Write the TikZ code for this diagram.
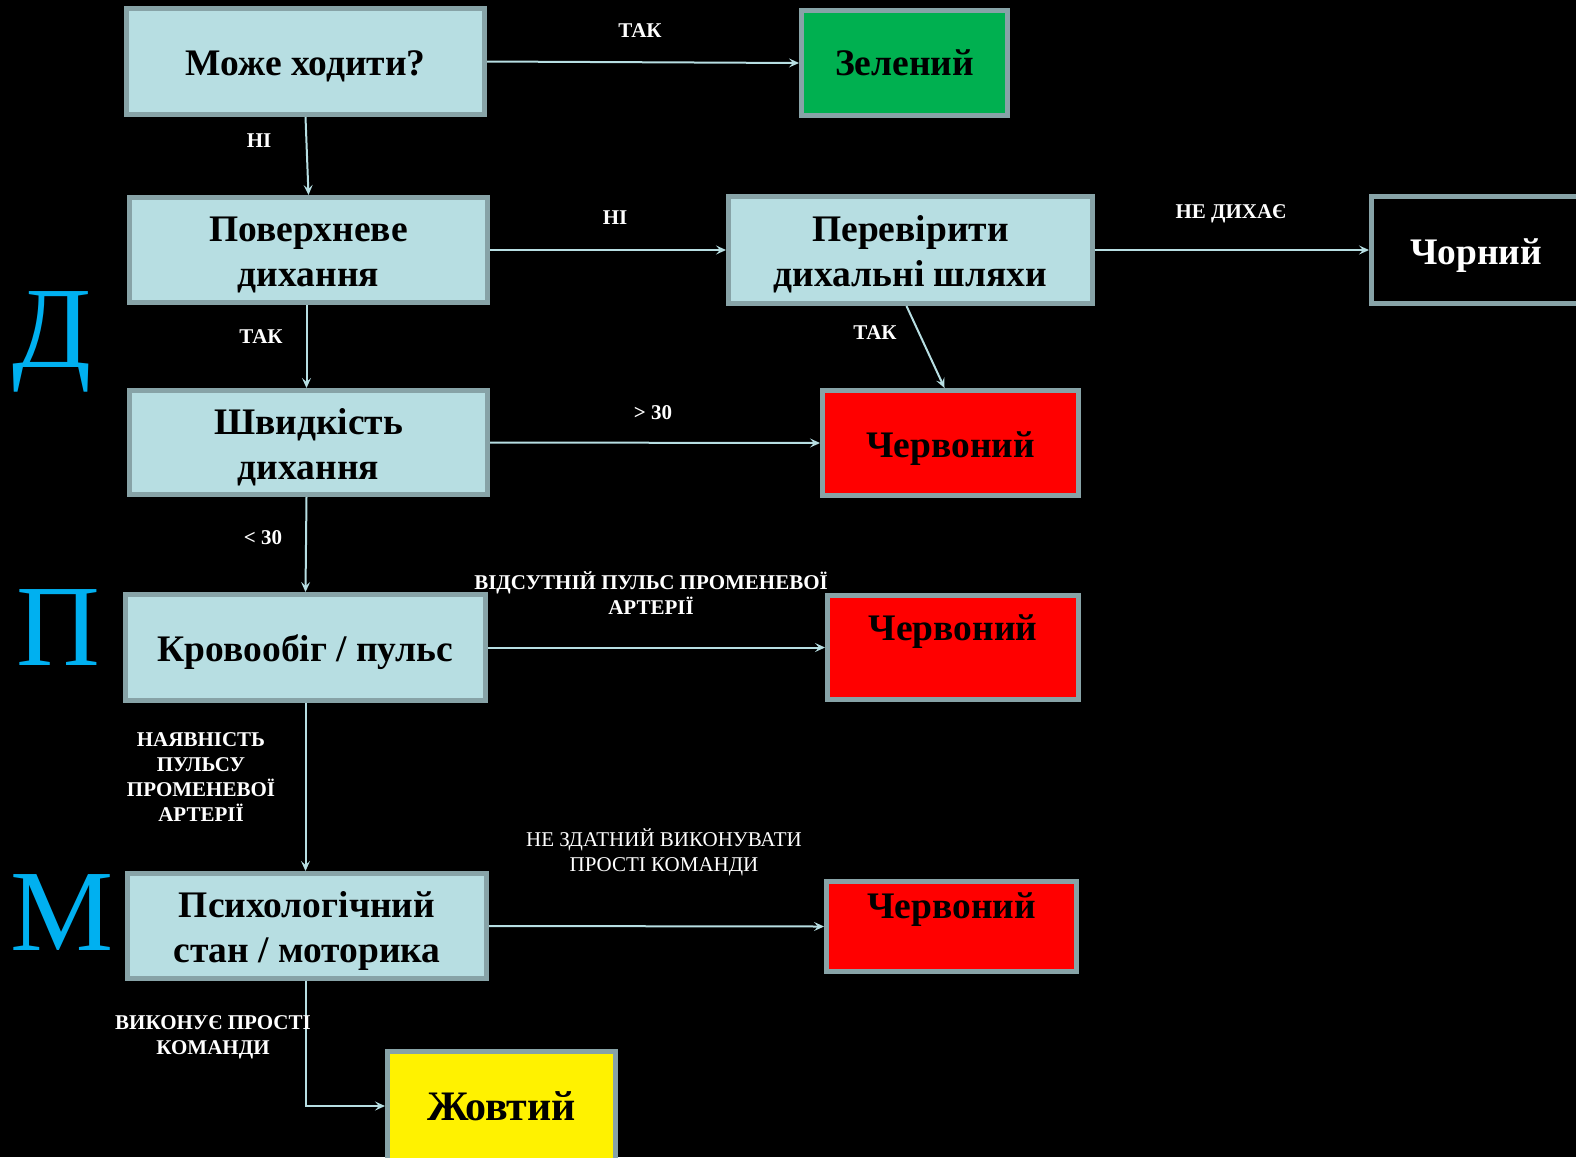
\documentclass[tikz,border=0pt]{standalone}
\usepackage{fontspec}
\setmainfont{Liberation Serif}
\usepackage{xcolor}
\usepackage{tikz}
\usetikzlibrary{arrows.meta}

\definecolor{boxfill}{HTML}{B7DEE2}
\definecolor{boxline}{HTML}{87A3A7}
\definecolor{arrowc}{HTML}{B7DEE2}
\definecolor{greenc}{HTML}{00B050}
\definecolor{sidec}{HTML}{00B0F0}

\newcommand{\boxfont}{\fontsize{37.5}{45}\selectfont\bfseries}
\newcommand{\lblfont}{\fontsize{21}{25}\selectfont\bfseries}
\newcommand{\sidefont}{\fontsize{116}{116}\selectfont}
% text set a little lower in its box
\newcommand{\dn}[1]{\raisebox{-5pt}[\height][\depth]{\begin{tabular}{@{}c@{}}#1\end{tabular}}}

\tikzset{
    base/.style={draw=boxline, line width=5pt, font=\boxfont, align=center, inner sep=0pt},
    qbox/.style={base, fill=boxfill},
    lbl/.style={text=white, font=\lblfont, align=center, inner sep=0pt},
    side/.style={text=sidec, font=\sidefont, anchor=base, inner sep=0pt},
    conn/.style={draw=arrowc, line width=2pt, -{Stealth[length=10pt,width=9pt,inset=4pt]}}
}

\begin{document}
\begin{tikzpicture}[x=1pt,y=-1pt]
        \useasboundingbox (0,0) rectangle (1576,1157);
        \fill[black] (0,0) rectangle (1576,1157);
        \clip (0,0) rectangle (1576,1157);

        % questions
        \node[qbox, minimum width=358, minimum height=106] (walk) at (305.5,61.5) {\dn{Може ходити?}};
        \node[qbox, minimum width=358, minimum height=105] (breath) at (308.5,250) {\dn{Поверхневе\\дихання}};
        \node[qbox, minimum width=364, minimum height=107] (airway) at (910.5,250) {\dn{Перевірити\\дихальні шляхи}};
        \node[qbox, minimum width=358, minimum height=104] (rate) at (308.5,442.5) {\dn{Швидкість\\дихання}};
        \node[qbox, minimum width=360, minimum height=106] (pulse) at (305.5,647.5) {\dn{Кровообіг / пульс}};
        \node[qbox, minimum width=359, minimum height=105] (mental) at (307,926) {\dn{Психологічний\\стан / моторика}};

        % results
        \node[base, fill=greenc, minimum width=206, minimum height=105] (green) at (904.5,63) {Зелений};
        \node[base, fill=black, text=white, minimum width=209, minimum height=107] (black) at (1476,250) {\dn{Чорний}};
        \node[base, fill=red, minimum width=256, minimum height=105] (red1) at (950.5,443) {\dn{Червоний}};
        \node[base, fill=red, minimum width=251, text height=44.5, text depth=59.5] (red2) at (953,647.5) {Червоний};
        \node[base, fill=red, minimum width=250, text height=37, text depth=53] (red3) at (951.5,926.5) {Червоний};
        \node[base, fill=yellow, minimum width=228, minimum height=109, font=\fontsize{42}{45}\selectfont\bfseries] (yellow) at (501.5,1106) {Жовтий};

        % letters
        \node[side] (d) at (52,367) {Д};
        \node[side] (p) at (58,665) {П};
        \node[side] (m) at (62,950) {М};

        % connectors
        \draw[conn] (walk.east) -- (green.west);
        \draw[conn] (walk.south) -- (breath.north);
        \draw[conn] (breath.east) -- (airway.west);
        \draw[conn] (airway.east) -- (black.west);
        \draw[conn] ([xshift=-4pt]airway.south) -- ([xshift=-6pt]red1.north);
        \draw[conn] ([xshift=-2pt]breath.south) -- ([xshift=-2pt]rate.north);
        \draw[conn] (rate.east) -- (red1.west);
        \draw[conn] ([xshift=-2pt]rate.south) -- (pulse.north);
        \draw[conn] (pulse.south) -- ([xshift=-1.5pt]mental.north);
        \draw[conn] (pulse.east) -- (red2.west);
        \draw[conn] (mental.east) -- (red3.west);
        \draw[conn] ([xshift=-1.5pt]mental.south) |- (yellow.west);

        % labels
        \node[lbl] (yes1) at (640,31) {ТАК};
        \node[lbl] (no1) at (259,141) {НІ};
        \node[lbl] (no2) at (615,218) {НІ};
        \node[lbl] (nobreath) at (1231,214) {НЕ ДИХАЄ};
        \node[lbl] (yes2) at (875,333) {ТАК};
        \node[lbl] (yes3) at (261,337) {ТАК};
        \node[lbl] (over) at (653,413) {> 30};
        \node[lbl] (under) at (263,538) {< 30};
        \node[lbl] (nopulse) at (651,593) {ВІДСУТНІЙ ПУЛЬС ПРОМЕНЕВОЇ\\АРТЕРІЇ};
        \node[lbl] (haspulse) at (201,777) {НАЯВНІСТЬ\\ПУЛЬСУ\\ПРОМЕНЕВОЇ\\АРТЕРІЇ};
        \node[lbl, font=\fontsize{21}{25}\selectfont] (nocmd) at (664,852) {НЕ ЗДАТНИЙ ВИКОНУВАТИ\\ПРОСТІ КОМАНДИ};
        \node[lbl] (cmd) at (213,1037) {ВИКОНУЄ ПРОСТІ\\КОМАНДИ};
    \end{tikzpicture}
\end{document}
